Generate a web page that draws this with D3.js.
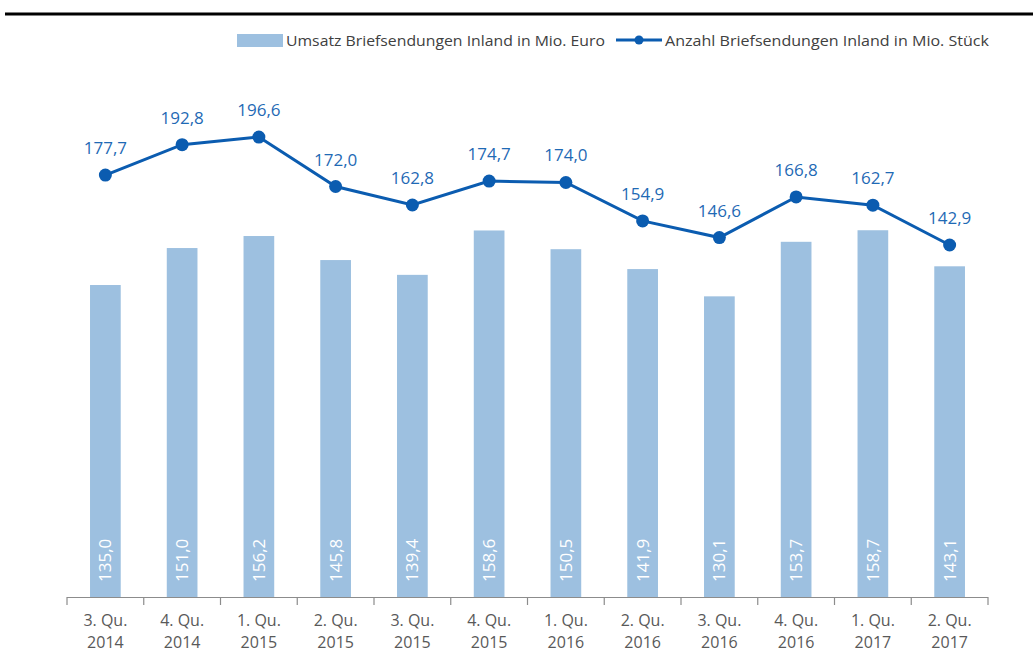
<!DOCTYPE html>
<html>
<head>
<meta charset="utf-8">
<script src="https://cdn.jsdelivr.net/npm/d3@7"></script>
<style>
  body { margin: 0; background: #fff; }
  text { font-family: "Open Sans", "Noto Sans", sans-serif; }
</style>
</head>
<body>
<div class="chart"></div>
<script>
const quarters = ["3. Qu.", "4. Qu.", "1. Qu.", "2. Qu.", "3. Qu.", "4. Qu.", "1. Qu.", "2. Qu.", "3. Qu.", "4. Qu.", "1. Qu.", "2. Qu."];
const years = ["2014", "2014", "2015", "2015", "2015", "2015", "2016", "2016", "2016", "2016", "2017", "2017"];
const umsatz = [135.0, 151.0, 156.2, 145.8, 139.4, 158.6, 150.5, 141.9, 130.1, 153.7, 158.7, 143.1];
const anzahl = [177.7, 192.8, 196.6, 172.0, 162.8, 174.7, 174.0, 154.9, 146.6, 166.8, 162.7, 142.9];

const width = 1033;
const height = 655;
const fmt = (v) => v.toFixed(1).replace(".", ",");

const svg = d3
  .select(".chart")
  .append("svg")
  .attr("width", width)
  .attr("height", height);

// top rule
svg.append("line")
  .attr("x1", 5).attr("x2", width)
  .attr("y1", 14).attr("y2", 14)
  .attr("stroke", "#000").attr("stroke-width", 3);

const x = d3.scaleBand()
  .domain(d3.range(quarters.length))
  .range([67, 988])
  .paddingInner(0.6)
  .paddingOuter(0.3);

const y1 = d3.scaleLinear().domain([0, 250]).range([597, 597 - 250 * 2.311]);
const y2 = d3.scaleLinear().domain([100, 200]).range([331.3, 130.2]);

// bars
svg.selectAll("rect.bar")
  .data(umsatz)
  .enter()
  .append("rect")
  .attr("class", "bar")
  .attr("x", (d, i) => x(i))
  .attr("y", (d) => y1(d))
  .attr("width", x.bandwidth())
  .attr("height", (d) => y1(0) - y1(d))
  .attr("fill", "#9dc0e0");

svg.selectAll("text.barlabel")
  .data(umsatz)
  .enter()
  .append("text")
  .attr("class", "barlabel")
  .attr("transform", (d, i) => `translate(${x(i) + x.bandwidth() / 2 + 6},${y1(0) - 15}) rotate(-90)`)
  .attr("fill", "#fff")
  .attr("font-size", 17)
  .text((d) => fmt(d));

// x axis
const step = (988 - 67) / quarters.length;
svg.append("line")
  .attr("x1", 67).attr("x2", 988)
  .attr("y1", 597.5).attr("y2", 597.5)
  .attr("stroke", "#8c8c8c").attr("stroke-width", 1.2);

svg.selectAll("line.tick")
  .data(d3.range(quarters.length + 1))
  .enter()
  .append("line")
  .attr("class", "tick")
  .attr("x1", (d) => 67 + d * step).attr("x2", (d) => 67 + d * step)
  .attr("y1", 597).attr("y2", 605)
  .attr("stroke", "#8c8c8c").attr("stroke-width", 1.2);

const xl = svg.selectAll("text.xlab")
  .data(quarters)
  .enter()
  .append("text")
  .attr("class", "xlab")
  .attr("text-anchor", "middle")
  .attr("fill", "#595959")
  .attr("font-size", 16);
xl.append("tspan")
  .attr("x", (d, i) => x(i) + x.bandwidth() / 2)
  .attr("y", 626)
  .text((d) => d);
xl.append("tspan")
  .attr("x", (d, i) => x(i) + x.bandwidth() / 2)
  .attr("y", 648)
  .text((d, i) => years[i]);

// line
const line = d3.line()
  .x((d, i) => x(i) + x.bandwidth() / 2)
  .y((d) => y2(d));

svg.append("path")
  .datum(anzahl)
  .attr("d", line)
  .attr("fill", "none")
  .attr("stroke", "#0b5cb0")
  .attr("stroke-width", 3);

svg.selectAll("circle.pt")
  .data(anzahl)
  .enter()
  .append("circle")
  .attr("class", "pt")
  .attr("cx", (d, i) => x(i) + x.bandwidth() / 2)
  .attr("cy", (d) => y2(d))
  .attr("r", 6.5)
  .attr("fill", "#0b5cb0");

svg.selectAll("text.ptlabel")
  .data(anzahl)
  .enter()
  .append("text")
  .attr("class", "ptlabel")
  .attr("x", (d, i) => x(i) + x.bandwidth() / 2)
  .attr("y", (d) => y2(d) - 21)
  .attr("text-anchor", "middle")
  .attr("fill", "#1f6ab5")
  .attr("font-size", 17)
  .text((d) => fmt(d));

// legend
const lg = svg.append("g");
lg.append("rect")
  .attr("x", 237).attr("y", 34)
  .attr("width", 46).attr("height", 13)
  .attr("fill", "#9dc0e0");
lg.append("text")
  .attr("x", 286).attr("y", 46)
  .attr("fill", "#404040")
  .attr("font-size", 15)
  .attr("textLength", 319)
  .attr("lengthAdjust", "spacingAndGlyphs")
  .text("Umsatz Briefsendungen Inland in Mio. Euro");
lg.append("line")
  .attr("x1", 616).attr("x2", 662)
  .attr("y1", 40).attr("y2", 40)
  .attr("stroke", "#0b5cb0").attr("stroke-width", 3);
lg.append("circle")
  .attr("cx", 639).attr("cy", 40).attr("r", 4.5)
  .attr("fill", "#0b5cb0");
lg.append("text")
  .attr("x", 665).attr("y", 46)
  .attr("fill", "#404040")
  .attr("font-size", 15)
  .attr("textLength", 324)
  .attr("lengthAdjust", "spacingAndGlyphs")
  .text("Anzahl Briefsendungen Inland in Mio. Stück");
</script>
</body>
</html>
